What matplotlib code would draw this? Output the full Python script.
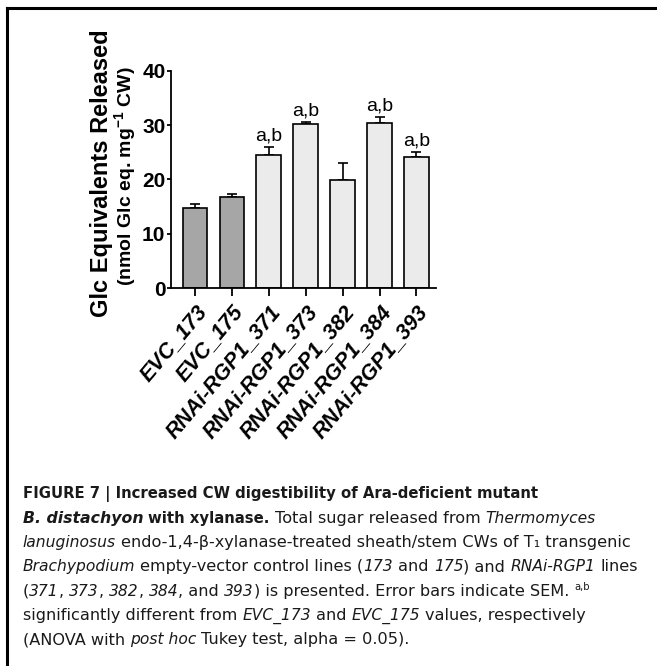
import matplotlib
matplotlib.use("Agg")
import matplotlib.pyplot as plt
import numpy as np

plt.rcParams['font.family'] = ['Liberation Sans', 'DejaVu Sans']
plt.rcParams['mathtext.fontset'] = 'custom'
plt.rcParams['mathtext.rm'] = 'Liberation Sans'
plt.rcParams['mathtext.it'] = 'Liberation Sans:italic'
plt.rcParams['mathtext.bf'] = 'Liberation Sans:bold'

# glucose released per line (mean and SEM)
lineas = ['EVC_173', 'EVC_175', 'RNAi-RGP1_371', 'RNAi-RGP1_373',
          'RNAi-RGP1_382', 'RNAi-RGP1_384', 'RNAi-RGP1_393']
medias = [14.8, 16.7, 24.4, 30.1, 19.8, 30.4, 24.2]
sem = [0.75, 0.6, 1.6, 0.45, 3.3, 1.1, 0.75]
letras = ['', '', 'a,b', 'a,b', '', 'a,b', 'a,b']
colores = ['#a6a6a6', '#a6a6a6', '#ebebeb', '#ebebeb', '#ebebeb', '#ebebeb', '#ebebeb']

W, H = 657, 666
fig = plt.figure(figsize=(W / 100, H / 100), dpi=100)

def fx(px):
    return px / W

def fy(py):
    return 1 - py / H

ax = fig.add_axes([fx(171), fy(288), fx(436) - fx(171), fy(70.7) - fy(288)])
x = np.arange(len(lineas))
ax.bar(x, medias, width=0.67, color=colores, edgecolor='black', linewidth=1.2, zorder=2)
ax.errorbar(x, medias, yerr=[np.zeros(len(sem)), sem], fmt='none', ecolor='black',
            elinewidth=1.2, capsize=3.5, capthick=1.2, zorder=1)
for i, (m, s, l) in enumerate(zip(medias, sem, letras)):
    if l:
        ax.text(i, m + s + 0.5, l, ha='center', va='bottom', fontsize=14)

ax.set_xlim(-0.65, 6.53)
ax.set_ylim(0, 40)
ax.set_yticks([0, 10, 20, 30, 40])
ax.spines['top'].set_visible(False)
ax.spines['right'].set_visible(False)
ax.spines['left'].set_linewidth(1.3)
ax.spines['bottom'].set_linewidth(1.3)
ax.tick_params(axis='y', width=1.3, length=3, pad=1)
ax.tick_params(axis='x', width=1.3, length=6)
for t in ax.get_yticklabels():
    t.set_fontsize(15)
    t.set_fontweight('bold')
ax.set_xticks(x)
ax.set_xticklabels(lineas, rotation=50, ha='right', rotation_mode='anchor',
                   fontsize=15.5, fontweight='bold', fontstyle='italic')

fig.text(fx(102), fy(173), 'Glc Equivalents Released', rotation=90, ha='center',
         va='center', fontsize=17, fontweight='bold')
fig.text(fx(125), fy(176), r'(nmol Glc eq. mg$^{\mathbf{-1}}$ CW)', rotation=90,
         ha='center', va='center', fontsize=14, fontweight='bold')

# frame lines
fig.add_artist(plt.Line2D([fx(7), fx(7)], [fy(8), 0], color='black', lw=2.2))
fig.add_artist(plt.Line2D([fx(7), 1], [fy(8), fy(8)], color='black', lw=2.2))

# caption, written piece by piece so bold/italic can be mixed
renderer = fig.canvas.get_renderer()
fuente_pie = 'DejaVu Sans'
tam = 11.6
tam_it = 11.2
tam_negrita = 10.7
tam_negrita_it = 11.3
color_pie = '#1a1a1a'

def avance(s, size, **kw):
    # advance of a string = width(s+s) - width(s), so italic overhang cancels
    t1 = fig.text(0, 0, s, fontsize=size, family=fuente_pie, **kw)
    t2 = fig.text(0, 0, s + s, fontsize=size, family=fuente_pie, **kw)
    w = t2.get_window_extent(renderer).width - t1.get_window_extent(renderer).width
    t1.remove()
    t2.remove()
    return w

espacio = avance(' ', tam)

def linea(py, trozos):
    px = 22.7
    for txt, est in trozos:
        kw = {}
        size = tam
        if 'b' in est:
            kw['fontweight'] = 'bold'
            size = tam_negrita
        if 'i' in est:
            kw['fontstyle'] = 'italic'
            size = tam_negrita_it if 'b' in est else tam_it
        yy = py
        if 's' in est:      # superscript
            size = tam * 0.62
            yy = py - 6
        lead = len(txt) - len(txt.lstrip(' '))
        trail = len(txt) - len(txt.rstrip(' '))
        core = txt.strip(' ')
        px += lead * espacio
        fig.text(fx(px), fy(yy), core, fontsize=size, family=fuente_pie, color=color_pie,
                 va='baseline', ha='left', **kw)
        px += avance(core, size, **kw) + trail * espacio

lineas_pie = [
    [('FIGURE 7 | Increased CW digestibility of Ara-deficient mutant', 'b')],
    [('B. distachyon', 'bi'), (' with xylanase.', 'b'), (' Total sugar released from ', ''),
     ('Thermomyces', 'i')],
    [('lanuginosus', 'i'), (' endo-1,4-β-xylanase-treated sheath/stem CWs of T₁ transgenic', '')],
    [('Brachypodium', 'i'), (' empty-vector control lines (', ''), ('173', 'i'), (' and ', ''),
     ('175', 'i'), (') and ', ''), ('RNAi-RGP1', 'i'), (' lines', '')],
    [('(', ''), ('371', 'i'), (', ', ''), ('373', 'i'), (', ', ''), ('382', 'i'), (', ', ''),
     ('384', 'i'), (', and ', ''), ('393', 'i'), (') is presented. Error bars indicate SEM. ', ''),
     ('a,b', 's')],
    [('significantly different from ', ''), ('EVC_173', 'i'), (' and ', ''), ('EVC_175', 'i'),
     (' values, respectively', '')],
    [('(ANOVA with ', ''), ('post hoc', 'i'), (' Tukey test, alpha = 0.05).', '')],
]
for k, trozos in enumerate(lineas_pie):
    linea(498.5 + 24.3 * k, trozos)

fig.savefig('out.png', dpi=100)
